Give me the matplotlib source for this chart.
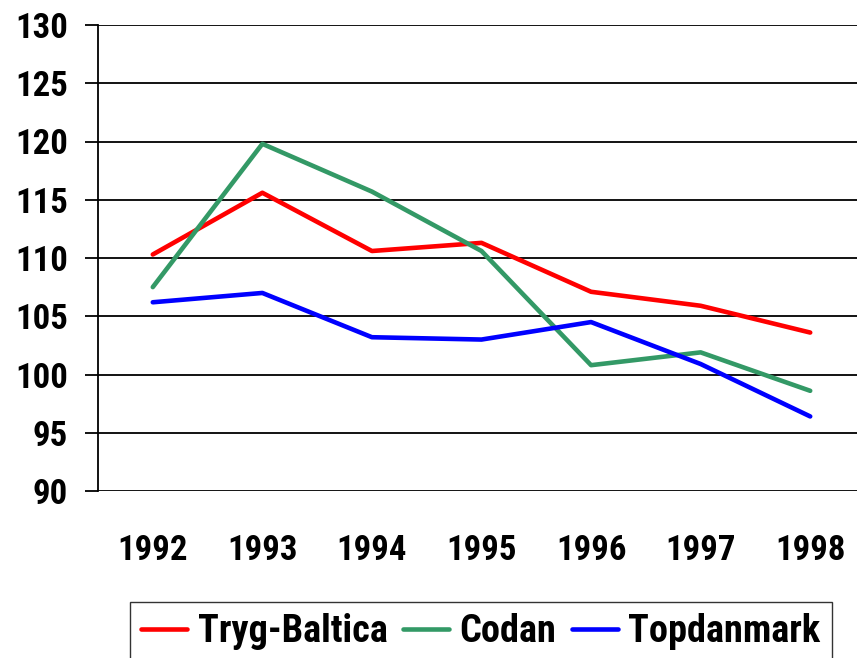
import matplotlib.pyplot as plt
from matplotlib import font_manager

years = ['1992', '1993', '1994', '1995', '1996', '1997', '1998']
tryg_baltica = [110.3, 115.6, 110.6, 111.3, 107.1, 105.9, 103.6]
codan = [107.5, 119.8, 115.7, 110.6, 100.8, 101.9, 98.6]
topdanmark = [106.2, 107.0, 103.2, 103.0, 104.5, 100.9, 96.4]

# pick a narrow bold font if there is one
fonts = font_manager.fontManager.ttflist
names = set(f.name for f in fonts)
family, stretch = 'DejaVu Sans', 'normal'
for cand in ['Liberation Sans Narrow', 'Roboto Condensed', 'Open Sans Condensed']:
    if cand in names:
        family = cand
        break
else:
    if any(f.name == 'DejaVu Sans' and f.stretch == 'condensed' for f in fonts):
        stretch = 'condensed'
plt.rcParams['font.family'] = [family, 'DejaVu Sans']
plt.rcParams['font.stretch'] = stretch
plt.rcParams['font.weight'] = 'bold'

W, H = 857, 658
fig = plt.figure(figsize=(W / 100, H / 100), dpi=100)
ax = fig.add_axes([98 / W, 1 - 491 / H, 767 / W, 466 / H])

x = range(len(years))
ax.plot(x, tryg_baltica, color='#ff0000', lw=3.3, label='Tryg-Baltica', solid_capstyle='round')
ax.plot(x, codan, color='#339966', lw=3.3, label='Codan', solid_capstyle='round')
ax.plot(x, topdanmark, color='#0000ff', lw=3.3, label='Topdanmark', solid_capstyle='round')

ax.set_xlim(-0.5, 6.5)
ax.set_ylim(90, 130)
ax.set_yticks(range(90, 131, 5))
ax.set_xticks(list(x))
ax.set_xticklabels(years)
ax.yaxis.grid(True, color='black', lw=1.3)
ax.set_axisbelow(True)
for s in ['top', 'right', 'bottom']:
    ax.spines[s].set_visible(False)
ax.spines['left'].set_linewidth(1.3)

small = stretch == 'normal' and family == 'DejaVu Sans'
tick_fs = 19 if small else 25
leg_fs = 21 if small else 27.5
ax.tick_params(axis='y', length=9.5, width=1.3, pad=12, labelsize=tick_fs)
ax.tick_params(axis='x', length=0, pad=31, labelsize=tick_fs)

leg = fig.legend(loc='upper left', bbox_to_anchor=(130 / W, 1 - 602 / H),
                 bbox_transform=fig.transFigure, ncol=3, fontsize=leg_fs,
                 frameon=True, fancybox=False, edgecolor='black',
                 handlelength=1.2, handletextpad=0.28, columnspacing=0.4,
                 borderpad=0.3, borderaxespad=0)
leg.get_frame().set_linewidth(1.0)

fig.savefig('out.png', dpi=100)
